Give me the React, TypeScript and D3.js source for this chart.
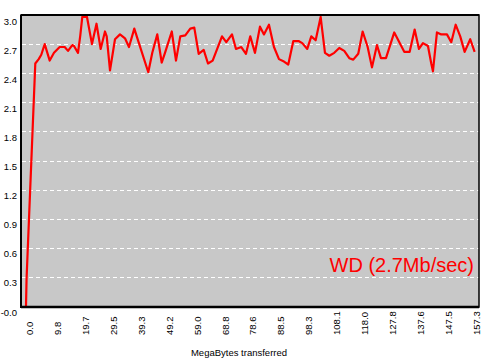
import React from "react";
import * as d3 from "d3";

const megabytes: number[] = [
  0, 0.2, 3.27, 4.47, 5.38, 6.58, 8.34, 9.85, 11.86, 13.62, 14.78, 16.29, 16.89, 18.3, 19.11, 19.81,
  21.46, 23.22, 24.81, 26.28, 27.8, 28.4, 29.56, 31.32, 33.08, 34.83, 36.24, 38.11, 39.51, 43.03,
  44.44, 46.2, 47.75, 48.91, 51.3, 52.78, 54.29, 56.05, 57.81, 59.22, 60.77, 62.53, 64.04, 65.69,
  68.97, 70.48, 72.48, 73.89, 75.76, 77.41, 78.92, 80.58, 82.34, 83.74, 85.5, 87.26, 89.02, 90.78,
  92.29, 94.05, 96.06, 97.22, 98.98, 100.39, 101.93, 103.69, 104.05, 105.21, 106.72, 108.48, 110.24,
  112.0, 113.76, 115.17, 116.92, 118.47, 120.23, 121.75, 123.5, 124.91, 126.67, 129.59, 133.11,
  135.01, 136.77, 138.28, 139.69, 141.45, 142.61, 143.21, 144.61, 146.13, 148.13, 149.65, 151.2,
  152.81, 154.36, 156.33, 157.88,
];

const rates: number[] = [
  0, 0.28, 2.5, 2.545, 2.59, 2.7, 2.53, 2.61, 2.67, 2.67, 2.63, 2.69, 2.68, 2.61, 2.79, 2.98,
  2.98, 2.7, 2.91, 2.65, 2.83, 2.78, 2.43, 2.75, 2.8, 2.76, 2.67, 2.86, 2.73, 2.41,
  2.61, 2.8, 2.51, 2.61, 2.83, 2.53, 2.78, 2.79, 2.86, 2.87, 2.6, 2.64, 2.5, 2.53,
  2.78, 2.72, 2.8, 2.65, 2.67, 2.6, 2.78, 2.61, 2.88, 2.8, 2.9, 2.67, 2.545, 2.52,
  2.49, 2.73, 2.73, 2.71, 2.65, 2.78, 2.74, 2.98, 2.89, 2.61, 2.58, 2.61, 2.66,
  2.63, 2.555, 2.54, 2.6, 2.83, 2.67, 2.46, 2.69, 2.555, 2.555, 2.82, 2.62,
  2.62, 2.85, 2.65, 2.71, 2.68, 2.5, 2.42, 2.82, 2.8, 2.8, 2.72, 2.9,
  2.78, 2.62, 2.75, 2.62,
];

const yTicks: number[] = [3.0, 2.7, 2.4, 2.1, 1.8, 1.5, 1.2, 0.9, 0.6, 0.3, 0.0];
const yTickLabels: string[] = ["3.0", "2.7", "2.4", "2.1", "1.8", "1.5", "1.2", "0.9", "0.6", "0.3", "-0.0"];
const xTickLabels: string[] = [
  "0.0", "9.8", "19.7", "29.5", "39.3", "49.2", "59.0", "68.8", "78.6",
  "88.5", "98.3", "108.1", "118.0", "127.8", "137.6", "147.5", "157.3",
];

const seriesLabel = "WD (2.7Mb/sec)";
const xTitle = "MegaBytes transferred";

const W = 489;
const H = 363;
const plot = { left: 21, top: 15, right: 479, bottom: 307 };

export default function App() {
  const x = d3.scaleLinear().domain([0, 157.3]).range([26, 473]);
  const y = d3.scaleLinear().domain([0, 3]).range([306, 15]);
  const pts: [number, number][] = megabytes.map((m, i) => [m, rates[i]]);
  const line = d3
    .line<[number, number]>()
    .x((d) => x(d[0]))
    .y((d) => y(d[1]));
  const font = "'Liberation Sans', Arial, sans-serif";

  return (
    <svg
      width={W}
      height={H}
      style={{ position: "absolute", left: 0, top: 0, background: "#fff" }}
    >
      <rect
        x={plot.left}
        y={plot.top}
        width={plot.right - plot.left}
        height={plot.bottom - plot.top}
        fill="#c8c8c8"
      />
      {yTicks
        .filter((t) => t > 0 && t < 3)
        .map((t) => (
          <line
            key={t}
            x1={plot.left + 1}
            x2={plot.right}
            y1={Math.round(y(t)) + 0.5}
            y2={Math.round(y(t)) + 0.5}
            stroke="#ffffff"
            strokeWidth={1}
            strokeDasharray="4,3"
          />
        ))}
      <path
        d={line(pts) || ""}
        fill="none"
        stroke="#ff0000"
        strokeWidth={2.2}
        strokeLinejoin="round"
      />
      <rect
        x={plot.left}
        y={plot.top}
        width={plot.right - plot.left}
        height={plot.bottom - plot.top}
        fill="none"
        stroke="#000"
        strokeWidth={1.5}
      />
      <line x1={plot.left} x2={plot.left} y1={plot.top} y2={plot.bottom + 1} stroke="#000" strokeWidth={2} />
      <line x1={plot.left} x2={plot.right} y1={plot.bottom} y2={plot.bottom} stroke="#000" strokeWidth={2.5} />
      <line x1={plot.left} x2={plot.right} y1={plot.top} y2={plot.top} stroke="#000" strokeWidth={2} />
      {yTicks.map((t, i) => (
        <text
          key={t}
          x={17}
          y={y(t) + 9.5}
          textAnchor="end"
          fontFamily={font}
          fontSize={9.5}
          fill="#000"
        >
          {yTickLabels[i]}
        </text>
      ))}
      {xTickLabels.map((lab) => {
        const px = x(parseFloat(lab)) + 7;
        return (
          <text
            key={lab}
            transform={`translate(${px},335) rotate(-90)`}
            fontFamily={font}
            fontSize={9.5}
            fill="#000"
          >
            {lab}
          </text>
        );
      })}
      <text
        x={239}
        y={356}
        textAnchor="middle"
        fontFamily={font}
        fontSize={9.5}
        fill="#000"
      >
        {xTitle}
      </text>
      <text
        x={474}
        y={271.5}
        textAnchor="end"
        fontFamily={font}
        fontSize={20}
        fill="#ff0000"
      >
        {seriesLabel}
      </text>
    </svg>
  );
}
